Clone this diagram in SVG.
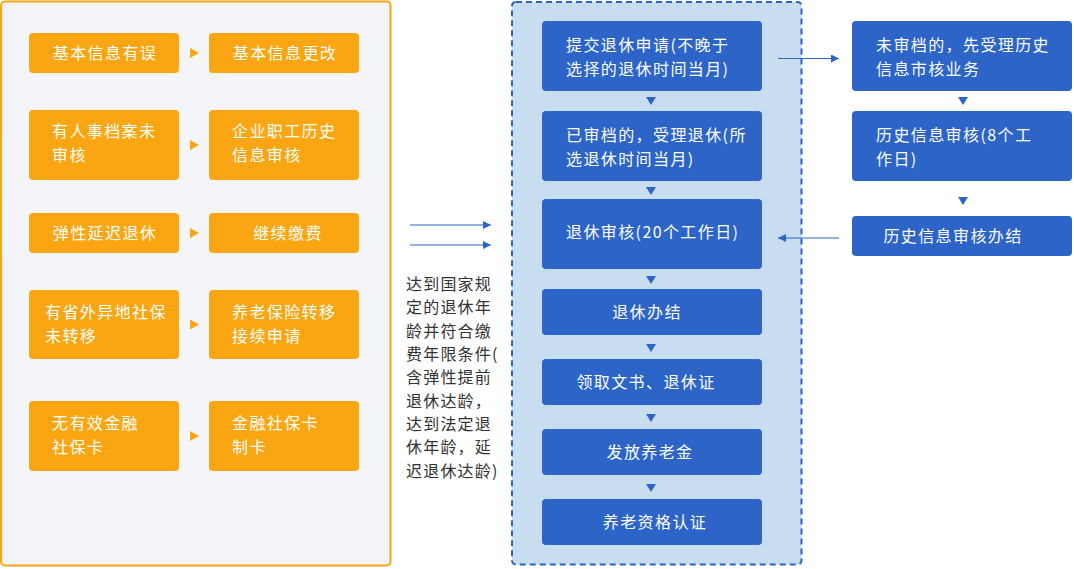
<svg xmlns="http://www.w3.org/2000/svg" width="1074" height="569" viewBox="0 0 1074 569">
<defs>
<style>
.t{font-family:"Noto Sans CJK SC","Liberation Sans",sans-serif;font-size:16px;letter-spacing:1.4px;fill:#ffffff}
.d{font-family:"Noto Sans CJK SC","Liberation Sans",sans-serif;font-size:16px;letter-spacing:1.2px;fill:#333333}
.m{text-anchor:middle}
.ob{fill:#f9a612}
.bb{fill:#2c64c8}
.ot{fill:#f9a612}
.bt{fill:#2c64c8}
.ln{stroke:#2c64c8;stroke-width:1.2;fill:none}
</style>
<marker id="ah" viewBox="0 0 10 10" refX="10" refY="5" markerWidth="8" markerHeight="8" markerUnits="userSpaceOnUse" orient="auto">
<path d="M0,0 L10,5 L0,10 Z" fill="#2c64c8"/>
</marker>
</defs>
<rect x="1" y="1.5" width="389.5" height="564" rx="4" fill="#f3f5f8" stroke="#f9a612" stroke-width="2"/>
<rect x="512" y="2" width="289.5" height="562.5" rx="4" fill="#c9ddf0" stroke="#2c64c8" stroke-width="2" stroke-dasharray="6 4"/>

<g id="connectors">
<polygon class="ot" points="190,48 199,53 190,58"/>
<polygon class="ot" points="190,140 199,145 190,150"/>
<polygon class="ot" points="190,228 199,233 190,238"/>
<polygon class="ot" points="190,319.5 199,324.5 190,329.5"/>
<polygon class="ot" points="190,431 199,436 190,441"/>
<line class="ln" x1="410" y1="225" x2="491" y2="225" marker-end="url(#ah)"/>
<line class="ln" x1="410" y1="245" x2="491" y2="245" marker-end="url(#ah)"/>
<polygon class="bt" points="646,97 656,97 651,105"/>
<polygon class="bt" points="646,187 656,187 651,195"/>
<polygon class="bt" points="646,276 656,276 651,284"/>
<polygon class="bt" points="646,344 656,344 651,352"/>
<polygon class="bt" points="646,414 656,414 651,422"/>
<polygon class="bt" points="646,484 656,484 651,492"/>
<polygon class="bt" points="958,97 968,97 963,105"/>
<polygon class="bt" points="958,197 968,197 963,205"/>
<line class="ln" x1="778" y1="58.5" x2="839" y2="58.5" marker-end="url(#ah)"/>
<line class="ln" x1="839" y1="238" x2="778" y2="238" marker-end="url(#ah)"/>
</g>

<g id="n-l1"><rect class="ob" x="29" y="33" width="150" height="40" rx="4"/><text class="t m" x="105" y="59">基本信息有误</text></g>
<g id="n-r1"><rect class="ob" x="209" y="33" width="150" height="40" rx="4"/><text class="t m" x="285" y="59">基本信息更改</text></g>
<g id="n-l2"><rect class="ob" x="29" y="110" width="150" height="70" rx="4"/><text class="t" x="52" y="137">有人事档案未</text><text class="t" x="52" y="161">审核</text></g>
<g id="n-r2"><rect class="ob" x="209" y="110" width="150" height="70" rx="4"/><text class="t" x="232" y="137">企业职工历史</text><text class="t" x="232" y="161">信息审核</text></g>
<g id="n-l3"><rect class="ob" x="29" y="213" width="150" height="40" rx="4"/><text class="t m" x="105" y="239">弹性延迟退休</text></g>
<g id="n-r3"><rect class="ob" x="209" y="213" width="150" height="40" rx="4"/><text class="t m" x="288" y="239">继续缴费</text></g>
<g id="n-l4"><rect class="ob" x="29" y="290" width="150" height="69" rx="4"/><text class="t" x="45" y="318">有省外异地社保</text><text class="t" x="45" y="342">未转移</text></g>
<g id="n-r4"><rect class="ob" x="209" y="290" width="150" height="69" rx="4"/><text class="t" x="232" y="318">养老保险转移</text><text class="t" x="232" y="342">接续申请</text></g>
<g id="n-l5"><rect class="ob" x="29" y="401" width="150" height="70" rx="4"/><text class="t" x="52" y="429">无有效金融</text><text class="t" x="52" y="453">社保卡</text></g>
<g id="n-r5"><rect class="ob" x="209" y="401" width="150" height="70" rx="4"/><text class="t" x="232" y="429">金融社保卡</text><text class="t" x="232" y="453">制卡</text></g>

<g id="n-cond">
<text class="d" x="406" y="290">达到国家规</text>
<text class="d" x="406" y="313.3">定的退休年</text>
<text class="d" x="406" y="336.7">龄并符合缴</text>
<text class="d" x="406" y="360">费年限条件(</text>
<text class="d" x="406" y="383.3">含弹性提前</text>
<text class="d" x="406" y="406.7">退休达龄，</text>
<text class="d" x="406" y="430">达到法定退</text>
<text class="d" x="406" y="453.3">休年龄，延</text>
<text class="d" x="406" y="476.7">迟退休达龄)</text>
</g>

<g id="n-c1"><rect class="bb" x="542" y="21" width="220" height="70" rx="4"/><text class="t" x="566" y="51">提交退休申请(不晚于</text><text class="t" x="566" y="75">选择的退休时间当月)</text></g>
<g id="n-c2"><rect class="bb" x="542" y="111" width="220" height="70" rx="4"/><text class="t" x="566" y="140.5">已审档的，受理退休(所</text><text class="t" x="566" y="164.5">选退休时间当月)</text></g>
<g id="n-c3"><rect class="bb" x="542" y="199" width="220" height="70" rx="4"/><text class="t" x="566" y="237.5">退休审核(20个工作日)</text></g>
<g id="n-c4"><rect class="bb" x="542" y="289" width="220" height="46" rx="4"/><text class="t m" x="647" y="317.5">退休办结</text></g>
<g id="n-c5"><rect class="bb" x="542" y="359" width="220" height="46" rx="4"/><text class="t m" x="646" y="387.5">领取文书、退休证</text></g>
<g id="n-c6"><rect class="bb" x="542" y="429" width="220" height="46" rx="4"/><text class="t m" x="650" y="457.5">发放养老金</text></g>
<g id="n-c7"><rect class="bb" x="542" y="499" width="220" height="46" rx="4"/><text class="t m" x="655" y="527.5">养老资格认证</text></g>

<g id="n-h1"><rect class="bb" x="852" y="21" width="220" height="70" rx="4"/><text class="t" x="876" y="50.5">未审档的，先受理历史</text><text class="t" x="876" y="74.5">信息市核业务</text></g>
<g id="n-h2"><rect class="bb" x="852" y="111" width="220" height="70" rx="4"/><text class="t" x="876" y="140.5">历史信息审核(8个工</text><text class="t" x="876" y="164.5">作日)</text></g>
<g id="n-h3"><rect class="bb" x="852" y="216" width="220" height="40" rx="4"/><text class="t m" x="953" y="241.5">历史信息审核办结</text></g>
</svg>
